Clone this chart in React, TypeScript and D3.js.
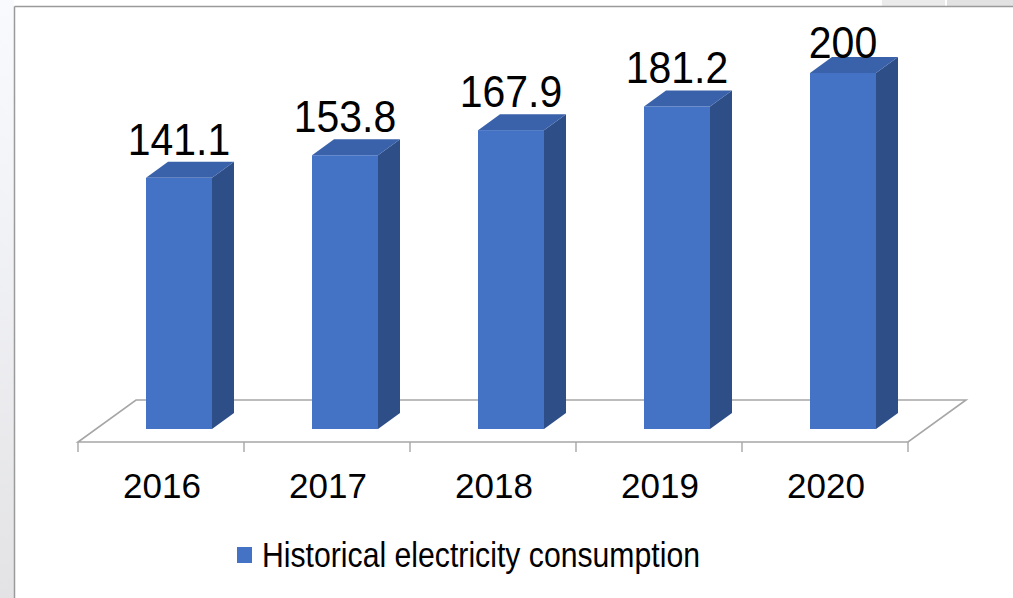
import React from "react";
import * as d3 from "d3";

const categories: string[] = ["2016", "2017", "2018", "2019", "2020"];
const values: number[] = [141.1, 153.8, 167.9, 181.2, 200];
const labels: string[] = ["141.1", "153.8", "167.9", "181.2", "200"];
const seriesName = "Historical electricity consumption";

const W = 1013;
const H = 598;

// floor geometry
const floorFrontY = 442;
const floorLeft = 78;
const floorRight = 908;
const depthDX = 58;
const depthDY = -42;
// bar depth placement
const barFrontDX = 18;
const barFrontDY = -13;
const barSideDX = 22;
const barSideDY = -16;
const barWidth = 66;

const FRONT = "#4472C4";
const TOP = "#3A62AA";
const SIDE = "#2E4E88";
const GRID = "#A6A6A6";

export default function App() {
  const x = d3.scaleBand<string>().domain(categories).range([floorLeft, floorRight]).padding(0);
  const baseY = floorFrontY + barFrontDY;
  const y = d3.scaleLinear().domain([0, 200]).range([baseY, baseY - 356]);

  const boundaries = [...categories.map((c) => x(c) as number), floorRight];

  const floorPts: [number, number][] = [
    [floorLeft, floorFrontY],
    [floorRight, floorFrontY],
    [floorRight + depthDX, floorFrontY + depthDY],
    [floorLeft + depthDX, floorFrontY + depthDY],
  ];
  const line = d3.line();

  return (
    <svg
      width={W}
      height={H}
      style={{ position: "fixed", left: 0, top: 0, display: "block", background: "#fff" }}
    >
      <defs>
        <linearGradient id="leftStrip" x1="0" y1="0" x2="0" y2="1">
          <stop offset="0" stopColor="#f9fafd" />
          <stop offset="0.3" stopColor="#f3f4f8" />
          <stop offset="1" stopColor="#e3e3e5" />
        </linearGradient>
      </defs>
      <rect x={0} y={0} width={14} height={H} fill="url(#leftStrip)" />
      <rect x={882} y={0} width={63} height={6} fill="#ebebeb" />
      <rect x={947} y={0} width={66} height={6} fill="#e2e2e2" />
      <line x1={14.5} y1={6.5} x2={14.5} y2={H} stroke="#9a9a9a" strokeWidth={1.5} />
      <line x1={14.5} y1={6.5} x2={W} y2={6.5} stroke="#9a9a9a" strokeWidth={1.5} />

      {/* floor */}
      <path d={line(floorPts) + "Z"} fill="#fff" stroke={GRID} strokeWidth={1.6} />
      {boundaries.map((bx, i) => (
        <line key={i} x1={bx} y1={floorFrontY} x2={bx} y2={floorFrontY + 10} stroke={GRID} strokeWidth={1.4} />
      ))}

      {/* bars */}
      {categories.map((c, i) => {
        const cx = (x(c) as number) + x.bandwidth() / 2 + barFrontDX;
        const x0 = cx - barWidth / 2;
        const x1 = cx + barWidth / 2;
        const yb = y(0);
        const yt = y(values[i]);
        const side: [number, number][] = [
          [x1, yb],
          [x1 + barSideDX, yb + barSideDY],
          [x1 + barSideDX, yt + barSideDY],
          [x1, yt],
        ];
        const top: [number, number][] = [
          [x0, yt],
          [x1, yt],
          [x1 + barSideDX, yt + barSideDY],
          [x0 + barSideDX, yt + barSideDY],
        ];
        const labelY = Math.max(yt - 23, 58);
        return (
          <g key={c}>
            <path d={line(side) + "Z"} fill={SIDE} />
            <path d={line(top) + "Z"} fill={TOP} />
            <rect x={x0} y={yt} width={barWidth} height={yb - yt} fill={FRONT} />
            <text
              x={cx}
              y={labelY}
              textAnchor="middle"
              fontFamily="'Liberation Sans', Arial, sans-serif"
              fontSize={44}
              textLength={labels[i].length * 20.5 + (labels[i].includes(".") ? 0 : 7)}
              lengthAdjust="spacingAndGlyphs"
              fill="#000"
            >
              {labels[i]}
            </text>
          </g>
        );
      })}

      {/* x labels */}
      {categories.map((c) => (
        <text
          key={c}
          x={(x(c) as number) + x.bandwidth() / 2 + 1}
          y={498}
          textAnchor="middle"
          fontFamily="'Liberation Sans', Arial, sans-serif"
          fontSize={35}
          fill="#000"
        >
          {c}
        </text>
      ))}

      {/* legend */}
      <rect x={237} y={547} width={15} height={16} fill={FRONT} />
      <text
        x={262}
        y={567}
        fontFamily="'Liberation Sans', Arial, sans-serif"
        fontSize={35}
        textLength={438}
        lengthAdjust="spacingAndGlyphs"
        fill="#000"
      >
        {seriesName}
      </text>
    </svg>
  );
}
